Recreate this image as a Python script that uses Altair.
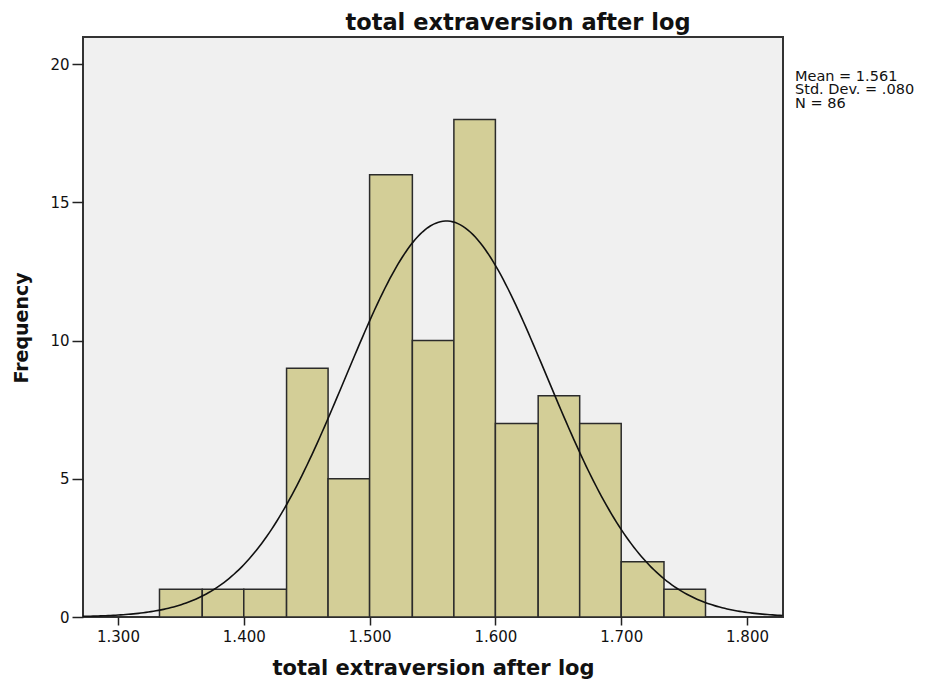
import altair as alt
import pandas as pd

# Histogram bins
bin_start = [1.333, 1.367, 1.400, 1.434, 1.467, 1.500, 1.534, 1.567, 1.600, 1.634, 1.667, 1.700, 1.734]
bin_end = [1.367, 1.400, 1.434, 1.467, 1.500, 1.534, 1.567, 1.600, 1.634, 1.667, 1.700, 1.734, 1.767]
counts = [1, 1, 1, 9, 5, 16, 10, 18, 7, 8, 7, 2, 1]

# Summary statistics shown on the chart
mean_val = 1.561
sd_val = 0.080
n_val = 86
bin_width = 0.0334
stats_lines = ["Mean = 1.561", "Std. Dev. = .080", "N = 86"]

x_ticks = [1.3, 1.4, 1.5, 1.6, 1.7, 1.8]
y_ticks = [0, 5, 10, 15, 20]
x_domain = [1.2722, 1.8286]
y_domain = [0, 20.98]

bars_df = pd.DataFrame({"start": bin_start, "end": bin_end, "count": counts})

x_scale = alt.Scale(domain=x_domain, nice=False, zero=False)
y_scale = alt.Scale(domain=y_domain, nice=False)

x_axis = alt.Axis(
    values=x_ticks, format=".3f", grid=False, domain=False,
    tickSize=8, tickColor="#222", tickWidth=1.5,
    labelFont="DejaVu Sans", labelFontSize=15, labelColor="#111", labelPadding=4,
    title="total extraversion after log",
    titleFont="DejaVu Sans", titleFontWeight="bold", titleFontSize=21, titleColor="#111",
    titleBaseline="alphabetic", titleY=57, titleX=350, titleAlign="center",
)
y_axis = alt.Axis(
    values=y_ticks, grid=False, domain=False,
    tickSize=11, tickColor="#222", tickWidth=1.5,
    labelFont="DejaVu Sans", labelFontSize=15, labelColor="#111", labelPadding=3,
    title="Frequency",
    titleFont="DejaVu Sans", titleFontWeight="bold", titleFontSize=19, titleColor="#111",
    titleAngle=-90, titleBaseline="alphabetic", titleAlign="center",
    titleX=-56, titleY=290.5,
)

bars = alt.Chart(bars_df).mark_rect(
    fill="#D3CE97", stroke="#2b2b2b", strokeWidth=1.5
).encode(
    x=alt.X("start:Q", scale=x_scale, axis=x_axis),
    x2="end:Q",
    y=alt.Y("count:Q", scale=y_scale, axis=y_axis),
    y2=alt.datum(0),
)

curve = alt.Chart(
    alt.sequence(x_domain[0], x_domain[1] + 0.001, 0.002, as_="xv")
).transform_calculate(
    yv=f"{n_val} * {bin_width} / ({sd_val} * sqrt(2 * PI)) * exp(-0.5 * pow((datum.xv - {mean_val}) / {sd_val}, 2))"
).mark_line(color="#111", strokeWidth=1.6, clip=True).encode(
    x=alt.X("xv:Q", scale=x_scale),
    y=alt.Y("yv:Q", scale=y_scale),
)

stats = alt.Chart(pd.DataFrame({"k": [0]})).mark_text(
    align="left", baseline="alphabetic", font="DejaVu Sans", fontSize=14.5,
    lineHeight=13.3, color="#111", text=stats_lines,
).encode(x=alt.value(712), y=alt.value(44))

chart = alt.layer(bars, curve, stats).properties(
    width=700,
    height=580,
    padding={"left": 75, "top": 29, "right": 135, "bottom": 62},
    autosize=alt.AutoSizeParams(type="none"),
    background="white",
    title=alt.TitleParams(
        "total extraversion after log",
        font="DejaVu Sans", fontSize=22.5, fontWeight="bold", color="#111",
        anchor="middle", frame="group", dx=85, dy=26, offset=11, baseline="alphabetic",
    ),
).configure_view(
    fill="#F0F0F0", stroke="#333333", strokeWidth=2
)

chart.save("out.html", embed_options={"renderer": "svg", "actions": False})
